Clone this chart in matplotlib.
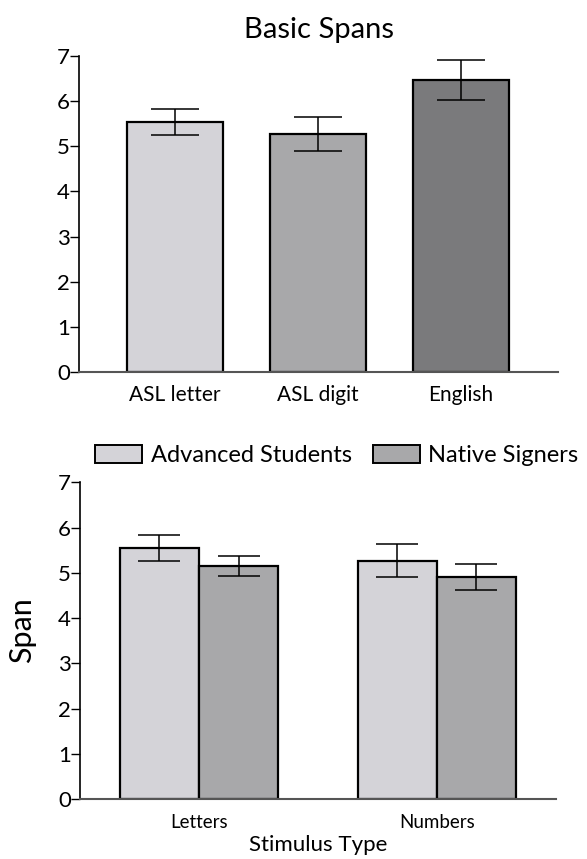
import matplotlib
matplotlib.use("Agg")
import matplotlib.pyplot as plt
from matplotlib.patches import Patch
import numpy as np

plt.rcParams['font.family'] = ['Lato', 'DejaVu Sans']

# Basic spans (top panel)
span_labels = ["ASL letter", "ASL digit", "English"]
span_means = [5.53, 5.27, 6.47]
span_err = [0.28, 0.38, 0.44]
span_colors = ["#d4d3d8", "#a8a8aa", "#7a7a7c"]

# Spans by group and stimulus type (bottom panel)
stim_labels = ["Letters", "Numbers"]
advanced_means = [5.55, 5.27]
advanced_err = [0.28, 0.37]
native_means = [5.15, 4.91]
native_err = [0.22, 0.29]
group_names = ["Advanced Students", "Native Signers"]
group_colors = ["#d4d3d8", "#a8a8aa"]

fig = plt.figure(figsize=(5.87, 8.59), dpi=100)


def style_axis(ax, xsize, xpad):
    ax.spines["top"].set_visible(False)
    ax.spines["right"].set_visible(False)
    ax.spines["left"].set_color("black")
    ax.spines["left"].set_linewidth(1.2)
    ax.spines["bottom"].set_color("#555555")
    ax.spines["bottom"].set_linewidth(1.5)
    ax.set_ylim(0, 7)
    ax.set_yticks(range(8))
    ax.tick_params(axis="y", direction="out", length=6.5, width=1.0,
                   pad=0, labelsize=16)
    ax.tick_params(axis="x", length=0, labelsize=xsize, pad=xpad)


# --- top panel ---
ax1 = fig.add_axes([0.1346, 0.5666, 0.816, 0.3686])
x1 = np.arange(len(span_labels))
ax1.bar(x1, span_means, width=0.67, color=span_colors, edgecolor="black",
        linewidth=1.6, zorder=2)
ax1.errorbar(x1, span_means, yerr=span_err, fmt="none", ecolor="black",
             elinewidth=1.1, capsize=17, capthick=1.1, zorder=3)
ax1.set_xlim(-0.67, 2.68)
ax1.set_xticks(x1)
ax1.set_xticklabels(span_labels)
style_axis(ax1, 15, 9)
ax1.set_title("Basic Spans", fontsize=21, pad=13)

# --- bottom panel ---
ax2 = fig.add_axes([0.1363, 0.0698, 0.8104, 0.3687])
x2 = np.arange(len(stim_labels))
w = 0.333
ax2.bar(x2 - w / 2, advanced_means, width=w, color=group_colors[0],
        edgecolor="black", linewidth=1.6, zorder=2)
ax2.bar(x2 + w / 2, native_means, width=w, color=group_colors[1],
        edgecolor="black", linewidth=1.6, zorder=2)
ax2.errorbar(x2 - w / 2, advanced_means, yerr=advanced_err, fmt="none",
             ecolor="black", elinewidth=1.1, capsize=15, capthick=1.1, zorder=3)
ax2.errorbar(x2 + w / 2, native_means, yerr=native_err, fmt="none",
             ecolor="black", elinewidth=1.1, capsize=15, capthick=1.1, zorder=3)
ax2.set_xlim(-0.5, 1.5)
ax2.set_xticks(x2)
ax2.set_xticklabels(stim_labels)
style_axis(ax2, 13.5, 11)
ax2.set_xlabel("Stimulus Type", fontsize=16, labelpad=3)
ax2.set_ylabel("Span", fontsize=22)
ax2.yaxis.set_label_coords(-0.092, 0.534)

handles = [Patch(facecolor=c, edgecolor="black", linewidth=1.4) for c in group_colors]
fig.legend(handles, group_names, loc="center", bbox_to_anchor=(0.574, 0.47),
           ncol=2, frameon=False, fontsize=17, handlelength=2.0,
           handleheight=0.8, handletextpad=0.35, columnspacing=0.9,
           borderaxespad=0)

fig.savefig("out.png", dpi=100)
